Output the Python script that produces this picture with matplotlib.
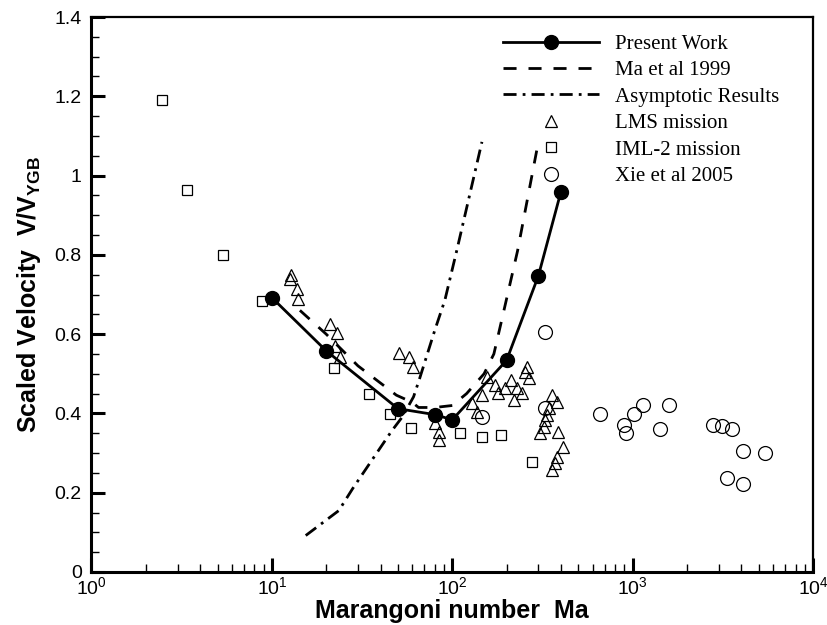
import matplotlib
matplotlib.use('Agg')
import matplotlib.pyplot as plt
from matplotlib.ticker import MultipleLocator, LogLocator, NullFormatter

plt.rcParams['mathtext.fontset'] = 'custom'
plt.rcParams['mathtext.rm'] = 'Liberation Sans'
plt.rcParams['mathtext.bf'] = 'Liberation Sans:bold'
plt.rcParams['font.family'] = 'Liberation Sans'

# present work
pw_ma = [10, 20, 50, 80, 100, 200, 300, 400]
pw_v = [0.692, 0.558, 0.412, 0.397, 0.384, 0.534, 0.747, 0.959]

# Ma et al 1999
ma99_ma = [14.3, 20, 30, 49, 60, 65, 80, 100, 120, 150, 170, 190, 230, 300]
ma99_v = [0.66, 0.60, 0.52, 0.446, 0.428, 0.415, 0.415, 0.42, 0.45, 0.50, 0.55, 0.645, 0.81, 1.085]

# asymptotic results
asy_ma = [15.4, 23.5, 28, 46, 53, 61, 66, 80, 91, 106, 146]
asy_v = [0.092, 0.155, 0.21, 0.355, 0.392, 0.442, 0.489, 0.61, 0.686, 0.812, 1.085]

# LMS mission
lms_ma = [12.7, 12.6, 13.8, 13.9, 21, 22.9, 22.5, 23.9, 50.7, 57.9, 60.9, 80.4, 83.9, 84.5,
          128, 137, 146, 155, 173, 180, 196, 211, 219, 228, 243, 254, 259, 267,
          307, 321, 327, 335, 342, 357, 380, 384, 410, 380, 372, 357]
lms_v = [0.749, 0.738, 0.713, 0.688, 0.625, 0.602, 0.57, 0.542, 0.552, 0.543, 0.518, 0.375, 0.354, 0.333,
         0.426, 0.404, 0.446, 0.493, 0.472, 0.451, 0.463, 0.484, 0.434, 0.463, 0.451, 0.505, 0.518, 0.489,
         0.35, 0.367, 0.383, 0.396, 0.413, 0.446, 0.43, 0.354, 0.316, 0.291, 0.274, 0.257]

# IML-2 mission
iml_ma = [2.46, 3.40, 5.38, 8.86, 22.2, 34.7, 44.9, 58.9, 110, 146, 187, 275]
iml_v = [1.191, 0.964, 0.800, 0.684, 0.514, 0.449, 0.399, 0.362, 0.350, 0.341, 0.346, 0.277]

# Xie et al 2005
xie_ma = [325, 146, 327, 661, 898, 918, 1012, 1146, 1423, 1582, 2774, 3126, 3554, 4074, 5433, 3335, 4074]
xie_v = [0.606, 0.39, 0.413, 0.399, 0.371, 0.351, 0.399, 0.421, 0.361, 0.421, 0.371, 0.368, 0.361,
         0.306, 0.301, 0.238, 0.222]

fig = plt.figure(figsize=(8.28, 6.25), dpi=100)
ax = fig.add_axes([0.1105, 0.0848, 0.8715, 0.888])

ax.plot(pw_ma, pw_v, '-o', color='black', lw=2, ms=10, label='Present Work', zorder=5)
ax.plot(ma99_ma, ma99_v, color='black', lw=2, linestyle=(0, (4.7, 4.3)), label='Ma et al 1999')
ax.plot(asy_ma, asy_v, color='black', lw=2, linestyle=(0, (4.7, 2.2, 1.0, 2.2)), label='Asymptotic Results')
ax.plot(lms_ma, lms_v, '^', mfc='none', mec='black', mew=0.9, ms=9, label='LMS mission')
ax.plot(iml_ma, iml_v, 's', mfc='none', mec='black', mew=0.9, ms=7.5, label='IML-2 mission')
ax.plot(xie_ma, xie_v, 'o', mfc='none', mec='black', mew=0.9, ms=10, label='Xie et al 2005')

ax.set_xscale('log')
ax.set_xlim(1, 1e4)
ax.set_ylim(0, 1.4)
ax.yaxis.set_minor_locator(MultipleLocator(0.05))
ax.xaxis.set_major_locator(LogLocator(base=10, numticks=10))
ax.xaxis.set_minor_locator(LogLocator(base=10, subs=range(2, 10), numticks=20))
ax.xaxis.set_minor_formatter(NullFormatter())
ax.set_yticks([0, 0.2, 0.4, 0.6, 0.8, 1.0, 1.2, 1.4])
ax.set_yticklabels(['0', '0.2', '0.4', '0.6', '0.8', '1', '1.2', '1.4'])

ax.tick_params(which='major', direction='in', length=10, width=2.2, labelsize=14)
ax.tick_params(which='minor', direction='in', length=6, width=1)
ax.tick_params(axis='y', which='major', pad=7)
ax.tick_params(axis='x', which='major', pad=3)
ax.tick_params(top=False, right=False)
for s in ['left', 'bottom']:
    ax.spines[s].set_linewidth(2.2)
for s in ['top', 'right']:
    ax.spines[s].set_linewidth(1.6)

ax.set_xlabel('Marangoni number  Ma', fontsize=18, fontweight='bold', labelpad=1)
ax.set_ylabel('Scaled Velocity  V/V$_\\mathbf{YGB}$', fontsize=18, fontweight='bold', labelpad=8)

leg = ax.legend(loc='upper right', bbox_to_anchor=(0.965, 0.984), frameon=False,
                prop={'family': 'Liberation Serif', 'size': 15},
                handlelength=4.6, handletextpad=0.8, labelspacing=0.33, borderaxespad=0)

fig.savefig('out.png', dpi=100)
